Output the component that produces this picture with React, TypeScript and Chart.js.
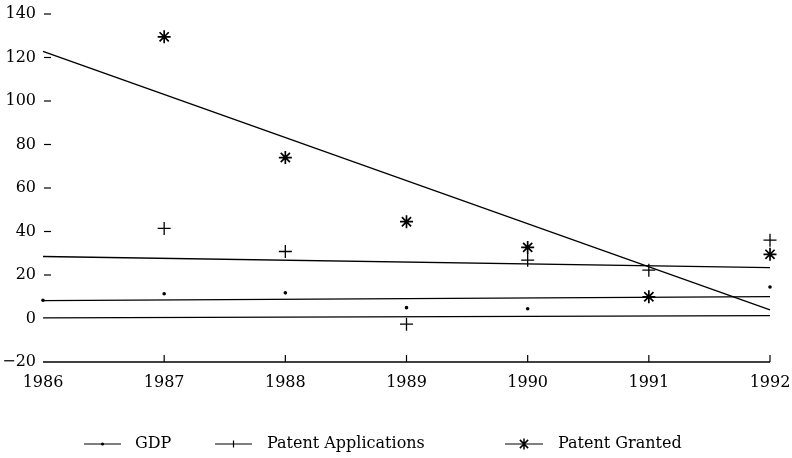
import React, { useEffect, useRef } from "react";
import { Chart, registerables } from "chart.js";

Chart.register(...registerables);

// ---- data ----
const gdpYears = [1986, 1987, 1988, 1989, 1990, 1991, 1992];
const gdp = [8.4, 11.4, 11.8, 5.0, 4.5, 10.0, 14.5];

const patentYears = [1987, 1988, 1989, 1990, 1991, 1992];
const patentApplications = [41.4, 30.8, -2.6, 26.8, 22.2, 36.0];
const patentGranted = [129.5, 74.0, 44.5, 32.7, 10.0, 29.5];

const trendYears = [1986, 1992];
const gdpTrend = [8.2, 10.1];
const applicationsTrend = [28.5, 23.4];
const grantedTrend = [122.8, 4.0];
const baseLine = [0.3, 1.3];

const xTicks = [1986, 1987, 1988, 1989, 1990, 1991, 1992];
const yTicks = [-20, 0, 20, 40, 60, 80, 100, 120, 140];

const FONT = "'DejaVu Serif', 'Liberation Serif', serif";

function pts(xs: number[], ys: number[]) {
  return xs.map((x, i) => ({ x, y: ys[i] }));
}

function drawMarker(c: CanvasRenderingContext2D, style: string, x: number, y: number) {
  c.save();
  c.strokeStyle = "#000";
  c.fillStyle = "#000";
  if (style === "dot") {
    c.beginPath();
    c.arc(x, y, 1.6, 0, Math.PI * 2);
    c.fill();
  } else if (style === "cross") {
    c.lineWidth = 1.2;
    c.beginPath();
    c.moveTo(x, y - 3.5);
    c.lineTo(x, y + 3.5);
    c.stroke();
  } else {
    c.lineWidth = 1.5;
    const r = 5.5;
    c.beginPath();
    c.moveTo(x, y - r);
    c.lineTo(x, y + r);
    c.moveTo(x - r * 0.75, y - r * 0.75);
    c.lineTo(x + r * 0.75, y + r * 0.75);
    c.moveTo(x - r * 0.75, y + r * 0.75);
    c.lineTo(x + r * 0.75, y - r * 0.75);
    c.stroke();
  }
  c.restore();
}

export default function App() {
  const ref = useRef<HTMLCanvasElement>(null);

  useEffect(() => {
    const canvas = ref.current;
    if (!canvas) return;

    const axisMarks = {
      id: "axisMarks",
      afterDatasetsDraw(chart: any) {
        const c = chart.ctx as CanvasRenderingContext2D;
        const { left, right, bottom } = chart.chartArea;
        const xs = chart.scales.x;
        const ys = chart.scales.y;
        c.save();
        c.strokeStyle = "#000";
        c.lineWidth = 1.5;
        c.beginPath();
        c.moveTo(left, bottom);
        c.lineTo(right, bottom);
        c.stroke();
        c.lineWidth = 1.2;
        xTicks.slice(1).forEach((v) => {
          const px = xs.getPixelForValue(v);
          c.beginPath();
          c.moveTo(px, bottom);
          c.lineTo(px, bottom - 7);
          c.stroke();
        });
        yTicks.filter((v) => v > 0).forEach((v) => {
          const py = ys.getPixelForValue(v);
          c.beginPath();
          c.moveTo(left + 1, py);
          c.lineTo(left + 8, py);
          c.stroke();
        });
        c.restore();
      },
    };

    const legendItems = [
      { ds: 0, x0: 84, x1: 121, tx: 135, style: "dot" },
      { ds: 1, x0: 215, x1: 252, tx: 267, style: "cross" },
      { ds: 2, x0: 505, x1: 543, tx: 558, style: "star" },
    ];

    const customLegend = {
      id: "customLegend",
      afterDraw(chart: any) {
        const c = chart.ctx as CanvasRenderingContext2D;
        const y = 444;
        c.save();
        c.strokeStyle = "#000";
        c.fillStyle = "#000";
        c.font = `16px ${FONT}`;
        c.textBaseline = "middle";
        legendItems.forEach((it) => {
          c.lineWidth = 1.1;
          c.beginPath();
          c.moveTo(it.x0, y);
          c.lineTo(it.x1, y);
          c.stroke();
          drawMarker(c, it.style, (it.x0 + it.x1) / 2, y);
          c.fillText(chart.data.datasets[it.ds].label, it.tx, y);
        });
        c.restore();
      },
    };

    const trendStyle = {
      showLine: true,
      pointRadius: 0,
      borderColor: "#000",
      borderWidth: 1.3,
      backgroundColor: "#000",
      clip: false as const,
    };

    const chart = new Chart(canvas, {
      type: "scatter",
      data: {
        datasets: [
          {
            label: "GDP",
            data: pts(gdpYears, gdp),
            pointStyle: "circle",
            pointRadius: 1.8,
            borderWidth: 0,
            backgroundColor: "#000",
            borderColor: "#000",
            clip: false,
          },
          {
            label: "Patent Applications",
            data: pts(patentYears, patentApplications),
            pointStyle: "cross",
            pointRadius: 6.5,
            borderWidth: 1.3,
            backgroundColor: "#000",
            borderColor: "#000",
            clip: false,
          },
          {
            label: "Patent Granted",
            data: pts(patentYears, patentGranted),
            pointStyle: "star",
            pointRadius: 6.5,
            borderWidth: 1.7,
            backgroundColor: "#000",
            borderColor: "#000",
            clip: false,
          },
          { label: "GDP trend", data: pts(trendYears, gdpTrend), ...trendStyle },
          { label: "Applications trend", data: pts(trendYears, applicationsTrend), ...trendStyle },
          { label: "Granted trend", data: pts(trendYears, grantedTrend), ...trendStyle },
          { label: "Base", data: pts(trendYears, baseLine), ...trendStyle },
        ],
      },
      options: {
        animation: false,
        responsive: true,
        maintainAspectRatio: false,
        layout: { padding: { top: 14, right: 22, bottom: 56, left: 0 } },
        plugins: {
          legend: { display: false },
          tooltip: { enabled: false },
        },
        scales: {
          x: {
            type: "linear",
            min: 1986,
            max: 1992,
            afterBuildTicks: (s: any) => {
              s.ticks = xTicks.map((v) => ({ value: v }));
            },
            ticks: {
              callback: (v: any) => String(v),
              color: "#000",
              font: { family: FONT, size: 16 },
              padding: 11,
              maxRotation: 0,
            },
            grid: { display: false, drawTicks: false },
            border: { display: false },
            afterFit: (s: any) => {
              s.height = 40;
              s.paddingLeft = 0;
              s.paddingRight = 0;
            },
          },
          y: {
            type: "linear",
            min: -20,
            max: 140,
            afterBuildTicks: (s: any) => {
              s.ticks = yTicks.map((v) => ({ value: v }));
            },
            ticks: {
              callback: (v: any) => (Number(v) < 0 ? "\u2212" + String(-v) : String(v)),
              color: "#000",
              font: { family: FONT, size: 16 },
              padding: 7,
            },
            grid: { display: false, drawTicks: false },
            border: { display: false },
            afterFit: (s: any) => {
              s.width = 43;
              s.paddingTop = 0;
              s.paddingBottom = 0;
            },
          },
        },
      },
      plugins: [axisMarks, customLegend],
    });

    return () => chart.destroy();
  }, []);

  return (
    <div
      style={{
        position: "fixed",
        left: 0,
        top: 0,
        width: 792,
        height: 458,
        background: "#fff",
      }}
    >
      <canvas ref={ref} />
    </div>
  );
}
